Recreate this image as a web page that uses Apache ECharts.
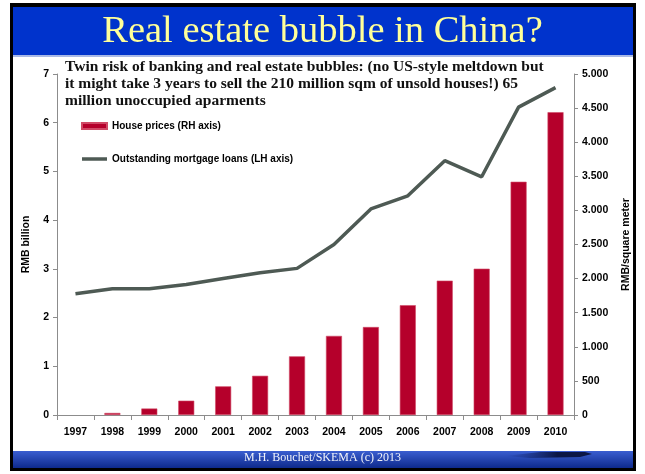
<!DOCTYPE html>
<html>
<head>
<meta charset="utf-8">
<script src="https://cdn.jsdelivr.net/npm/echarts@6/dist/echarts.min.js"></script>
<style>
  html, body { margin: 0; padding: 0; background: #fff; }
  #chart { width: 645px; height: 474px; }
</style>
</head>
<body>
<div id="chart"></div>
<script>
// Years on the category axis
const years = ['1997', '1998', '1999', '2000', '2001', '2002', '2003', '2004', '2005', '2006', '2007', '2008', '2009', '2010'];
// Outstanding mortgage loans, RMB billion (left axis)
const mortgageLoans = [2.49, 2.59, 2.59, 2.68, 2.80, 2.92, 3.01, 3.50, 4.23, 4.50, 5.22, 4.89, 6.32, 6.72];
// House prices, RMB per square meter (right axis)
const housePrices = [null, 30, 95, 210, 420, 575, 860, 1160, 1290, 1610, 1970, 2145, 3420, 4440];
// Axis tick settings
const leftTicks = { min: 0, max: 7, interval: 1 };
const rightTicks = { min: 0, max: 5000, interval: 500 };

const slideTitle = 'Real estate bubble in China?';
const noteLines = [
  'Twin risk of banking and real estate bubbles: (no US-style meltdown but',
  'it might take 3 years to sell the 210 million sqm of unsold houses!) 65',
  'million unoccupied aparments'
];
const footerText = 'M.H. Bouchet/SKEMA (c) 2013';

const SANS = '"Liberation Sans", Arial, sans-serif';
const SERIF = '"Liberation Serif", "DejaVu Serif", serif';

const chart = echarts.init(document.getElementById('chart'), null, { renderer: 'canvas' });

const thousands = v => String(v).replace(/\B(?=(\d{3})+(?!\d))/g, '.');

const axisLabelStyle = { color: '#000', fontFamily: SANS, fontWeight: 'bold', fontSize: 10.5 };

chart.setOption({
  animation: false,
  backgroundColor: '#fff',
  title: {
    text: slideTitle,
    left: 'center',
    top: 7,
    textStyle: { color: '#FFFF99', fontFamily: SERIF, fontWeight: 'normal', fontSize: 38.5 }
  },
  graphic: [
    // outer frame
    { type: 'rect', z: -10, shape: { x: 10, y: 3, width: 626, height: 468 },
      style: { fill: '#000' } },
    { type: 'rect', z: -9, shape: { x: 13, y: 7, width: 620, height: 460 },
      style: { fill: '#fff' } },
    // title band
    { type: 'rect', z: -8, shape: { x: 13, y: 7, width: 620, height: 48 },
      style: { fill: '#0033CC' } },
    { type: 'rect', z: -8, shape: { x: 13, y: 55, width: 620, height: 2 },
      style: { fill: '#A9B9E6' } },
    // footer band
    { type: 'rect', z: -8, shape: { x: 13, y: 451, width: 620, height: 17 },
      style: { fill: new echarts.graphic.LinearGradient(0, 0, 0, 1, [
        { offset: 0, color: '#3A5ED0' }, { offset: 1, color: '#0E2A8C' }]) } },
    { type: 'polygon', z: -7,
      shape: { points: [[505, 456], [540, 452], [585, 452], [592, 454], [580, 457], [530, 458]] },
      style: { fill: new echarts.graphic.LinearGradient(0, 0, 1, 0, [
        { offset: 0, color: 'rgba(20,40,120,0)' }, { offset: 0.6, color: '#0B1645' }, { offset: 1, color: '#0B1645' }]) } },
    { type: 'text', z: 5, left: 'center', top: 452,
      style: { text: footerText, fill: '#F0F2FA', font: '12px ' + SERIF } },
    // note above the plot
    { type: 'text', z: 5, left: 65, top: 58,
      style: { text: noteLines.join('\n'), fill: '#111', font: 'bold 15.5px ' + SERIF, lineHeight: 17 } }
  ],
  legend: {
    orient: 'vertical',
    left: 81,
    top: 121,
    padding: 0,
    itemGap: 23,
    itemWidth: 25,
    itemHeight: 12,
    symbolKeepAspect: true,
    textStyle: { color: '#000', fontFamily: SANS, fontWeight: 'bold', fontSize: 10 },
    data: [
      { name: 'House prices (RH axis)', icon: 'path://M0,0 L25,0 L25,6 L0,6 Z' },
      { name: 'Outstanding mortgage loans (LH axis)', icon: 'path://M0,0 L25,0 L25,3.5 L0,3.5 Z' }
    ]
  },
  grid: { left: 57, right: 71, top: 74, bottom: 59 },
  xAxis: {
    type: 'category',
    data: years,
    axisLine: { lineStyle: { color: '#8c8c8c', width: 1 } },
    axisTick: { show: true, length: 5, lineStyle: { color: '#8c8c8c' } },
    axisLabel: Object.assign({ margin: 12 }, axisLabelStyle)
  },
  yAxis: [
    {
      type: 'value',
      min: leftTicks.min, max: leftTicks.max, interval: leftTicks.interval,
      name: 'RMB billion',
      nameLocation: 'middle',
      nameGap: 25,
      nameRotate: 90,
      nameTextStyle: axisLabelStyle,
      axisLine: { show: true, lineStyle: { color: '#8c8c8c' } },
      axisTick: { show: true, length: 4, lineStyle: { color: '#8c8c8c' } },
      axisLabel: Object.assign({ margin: 8 }, axisLabelStyle),
      splitLine: { show: false }
    },
    {
      type: 'value',
      position: 'right',
      min: rightTicks.min, max: rightTicks.max, interval: rightTicks.interval,
      name: 'RMB/square meter',
      nameLocation: 'middle',
      nameGap: 47,
      nameRotate: 90,
      nameTextStyle: axisLabelStyle,
      axisLine: { show: true, lineStyle: { color: '#8c8c8c' } },
      axisTick: { show: true, length: 4, lineStyle: { color: '#8c8c8c' } },
      axisLabel: Object.assign({ margin: 8, formatter: thousands }, axisLabelStyle),
      splitLine: { show: false }
    }
  ],
  series: [
    {
      name: 'House prices (RH axis)',
      type: 'bar',
      yAxisIndex: 1,
      data: housePrices,
      barWidth: 16,
      itemStyle: { color: '#B5002B', borderColor: '#D04A66', borderWidth: 0.6 }
    },
    {
      name: 'Outstanding mortgage loans (LH axis)',
      type: 'line',
      yAxisIndex: 0,
      data: mortgageLoans,
      symbol: 'none',
      z: 3,
      lineStyle: { color: '#4E5A54', width: 3.5 },
      itemStyle: { color: '#4E5A54' }
    }
  ]
});
</script>
</body>
</html>
